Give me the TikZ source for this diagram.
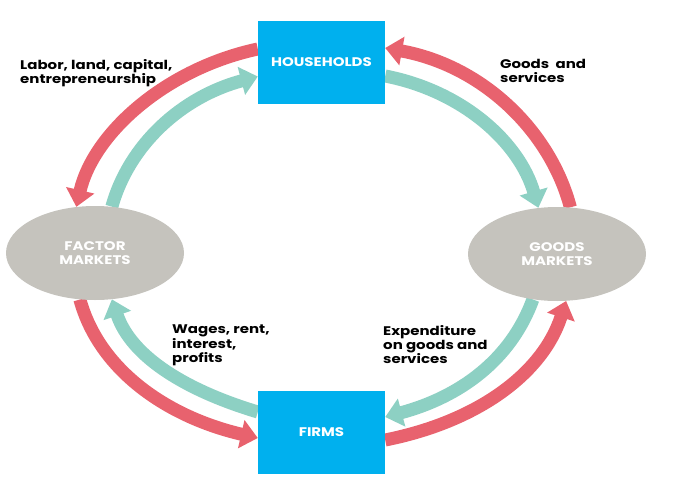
\documentclass[tikz,border=0pt]{standalone}
\usepackage{fontspec}
\setmainfont{Poppins}
\newfontfamily\widefont{Poppins}[FakeStretch=1.2]
\usetikzlibrary{arrows.meta,shapes.geometric}
\pgfdeclarelayer{background}
\pgfsetlayers{background,main}
\definecolor{flowred}{HTML}{E8626E}
\definecolor{flowteal}{HTML}{8DD0C3}
\definecolor{boxblue}{HTML}{00B0EE}
\definecolor{mktgrey}{HTML}{C5C3BD}
\tikzset{
  agent/.style={rectangle, fill=boxblue, minimum width=127pt, minimum height=83pt, inner sep=0pt,
    text=white, font=\widefont\fontsize{12.5}{14}\selectfont\bfseries},
  market/.style={ellipse, fill=mktgrey, minimum width=178pt, minimum height=94pt, inner sep=0pt,
    text=white, align=center, font=\widefont\fontsize{12.5}{14.5}\selectfont\bfseries},
  redflow/.style={draw=flowred, line width=13pt, -{Triangle[width=28pt,length=17pt]}},
  tealflow/.style={draw=flowteal, line width=13pt, -{Triangle[width=28pt,length=17pt]}},
  flowlabel/.style={anchor=north west, inner sep=0pt, align=left, text=black,
    font=\widefont\fontsize{12.5}{14.2}\selectfont\bfseries}
}
\begin{document}
\begin{tikzpicture}[x=1pt,y=1pt]
\useasboundingbox (0,0) rectangle (679,491);
\node[agent] (hh) at (321.5,428.5) {HOUSEHOLDS};
\node[agent] (fi) at (321.5,59) {FIRMS};
\node[market] (fm) at (95,238) {FACTOR\\MARKETS};
\node[market] (gm) at (557,237) {GOODS\\MARKETS};
\begin{pgfonlayer}{background}
% top-left
\draw[redflow] ([yshift=13.5pt]hh.west) .. controls (166,422.4) and (93.5,358) .. (fm.112);
\draw[tealflow] (fm.70) .. controls (129.2,346.6) and (182,394.3) .. ([yshift=-14pt]hh.west);
% top-right
\draw[redflow] (gm.74) .. controls (550.2,360) and (482.8,425.3) .. ([yshift=14.5pt]hh.east);
\draw[tealflow] ([yshift=-13.5pt]hh.east) .. controls (462.9,399.9) and (519.4,348.5) .. (gm.112);
% bottom-left
\draw[redflow] (fm.252) .. controls (99.6,119.5) and (169.1,73.5) .. ([yshift=-6pt]fi.west);
\draw[tealflow] ([yshift=20pt]fi.west) .. controls (188.2,99.9) and (131.7,133) .. (fm.290);
% bottom-right
\draw[redflow] ([yshift=-8pt]fi.east) .. controls (477.6,69.4) and (542.7,117.4) .. (gm.281);
\draw[tealflow] (gm.242) .. controls (510.8,130.9) and (459.6,94) .. ([yshift=15pt]fi.east);
\end{pgfonlayer}
\node[flowlabel] (l1) at (20,432) {Labor, land, capital,\\entrepreneurship};
\node[flowlabel] (l2) at (500,432) {Goods\ \ and\\services};
\node[flowlabel] (l3) at (172,166) {Wages, rent,\\interest,\\profits};
\node[flowlabel] (l4) at (383,166) {Expenditure\\on goods and\\services};
\end{tikzpicture}
\end{document}
